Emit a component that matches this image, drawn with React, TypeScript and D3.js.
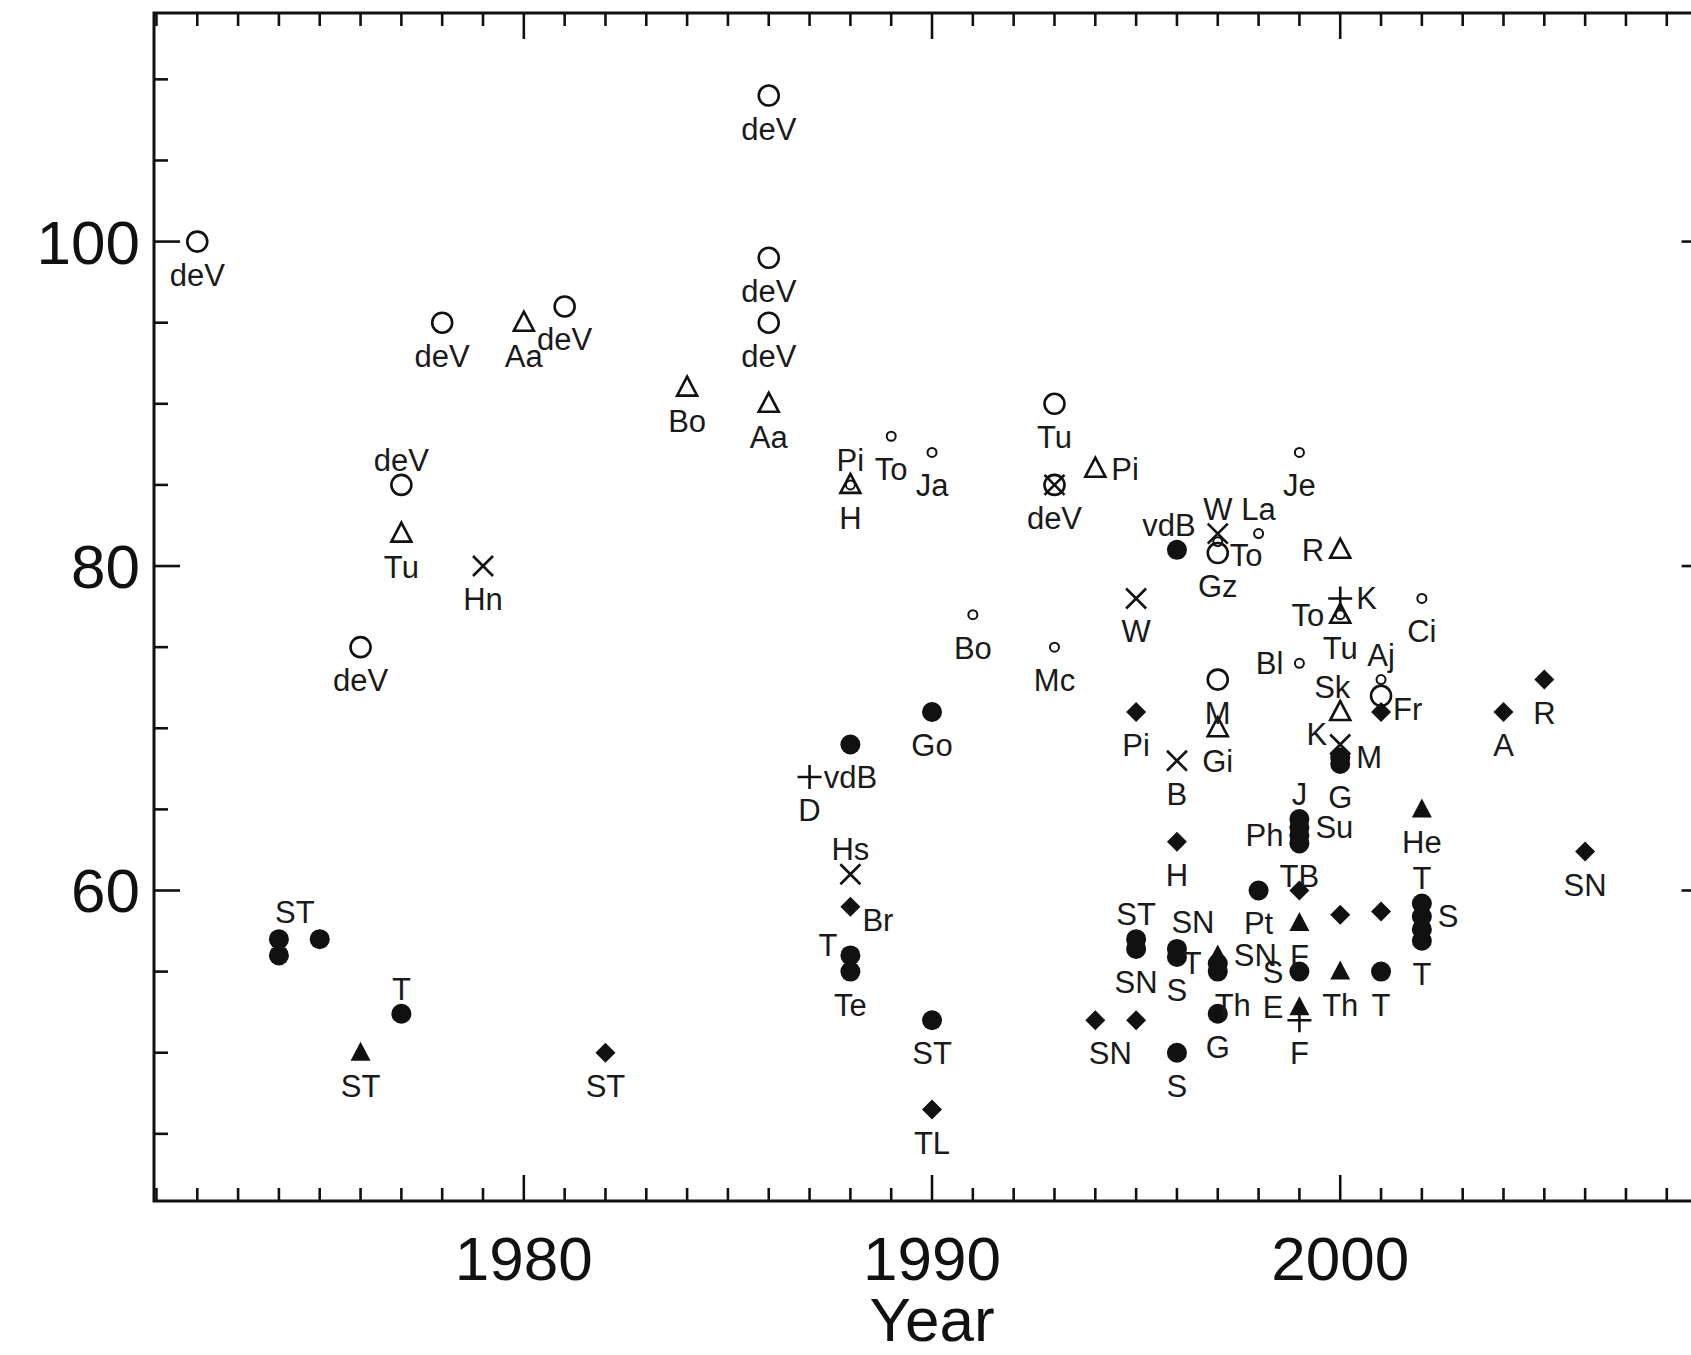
import * as d3 from "d3";

// [year, value, label, label placement]
type Pt = [number, number, string, string];

const openCircles: Pt[] = [
  [1972, 100, "deV", "b"],
  [1978, 95, "deV", "b"],
  [1981, 96, "deV", "b"],
  [1977, 85, "deV", "a"],
  [1976, 75, "deV", "b"],
  [1986, 109, "deV", "b"],
  [1986, 99, "deV", "b"],
  [1986, 95, "deV", "b"],
  [1993, 90, "Tu", "b"],
  [1993, 85, "deV", "b"],
  [1997, 80.8, "Gz", "b"],
  [1997, 73, "M", "b"],
  [2001, 72, "Fr", "lr"],
];

const smallCircles: Pt[] = [
  [1988, 85, "Pi", "a"],
  [1989, 88, "To", "b"],
  [1990, 87, "Ja", "b"],
  [1991, 77, "Bo", "b"],
  [1993, 75, "Mc", "b"],
  [1997, 81.5, "To", "lr"],
  [1998, 82, "La", "a"],
  [1999, 87, "Je", "b"],
  [2002, 78, "Ci", "b"],
  [1999, 74, "Bl", "l"],
  [2001, 73, "Aj", "a"],
  [2000, 77, "To", "l"],
];

const openTriangles: Pt[] = [
  [1980, 95, "Aa", "b"],
  [1977, 82, "Tu", "b"],
  [1986, 90, "Aa", "b"],
  [1984, 91, "Bo", "b"],
  [1988, 85, "H", "b"],
  [1994, 86, "Pi", "r"],
  [2000, 81, "R", "l"],
  [2000, 77, "Tu", "b"],
  [1997, 70, "Gi", "b"],
  [2000, 71, "Sk", "al"],
];

const crosses: Pt[] = [
  [1979, 80, "Hn", "b"],
  [1988, 61, "Hs", "a"],
  [1993, 85, "", ""],
  [1995, 78, "W", "b"],
  [1997, 82, "W", "a"],
  [1996, 68, "B", "b"],
  [2000, 69, "K", "ul"],
];

const filledCircles: Pt[] = [
  [1974, 57, "ST", "ar"],
  [1974, 56, "", ""],
  [1975, 57, "", ""],
  [1977, 52.4, "T", "a"],
  [1988, 69, "vdB", "b"],
  [1990, 71, "Go", "b"],
  [1988, 56, "T", "ul"],
  [1988, 55, "Te", "b"],
  [1990, 52, "ST", "b"],
  [1996, 81, "vdB", "al"],
  [2000, 68.2, "M", "r"],
  [2000, 67.8, "G", "b"],
  [1999, 64.4, "J", "a"],
  [1999, 63.9, "Su", "r"],
  [1999, 63.4, "Ph", "l"],
  [1999, 62.9, "TB", "b"],
  [1998, 60, "Pt", "b"],
  [2002, 59.2, "T", "a"],
  [2002, 58.4, "S", "r"],
  [2002, 57.6, "", ""],
  [2002, 56.9, "T", "b"],
  [1995, 57, "ST", "a"],
  [1995, 56.4, "SN", "b"],
  [1996, 56.4, "SN", "ar"],
  [1996, 55.9, "S", "b"],
  [1996, 50, "S", "b"],
  [1997, 55.5, "T", "l"],
  [1997, 55, "Th", "br"],
  [1997, 52.4, "G", "b"],
  [1999, 55, "S", "l"],
  [2001, 55, "T", "b"],
];

const filledDiamonds: Pt[] = [
  [1982, 50, "ST", "b"],
  [1990, 46.5, "TL", "b"],
  [1988, 59, "Br", "lr"],
  [1995, 71, "Pi", "b"],
  [1996, 63, "H", "b"],
  [1994, 52, "SN", "br"],
  [1995, 52, "", ""],
  [1999, 60, "", ""],
  [2000, 58.5, "", ""],
  [2001, 58.7, "", ""],
  [2001, 71, "", ""],
  [2004, 71, "A", "b"],
  [2005, 73, "R", "b"],
  [2006, 62.4, "SN", "b"],
];

const filledTriangles: Pt[] = [
  [1976, 50, "ST", "b"],
  [2002, 65, "He", "b"],
  [1999, 58, "F", "b"],
  [1997, 56, "SN", "r"],
  [1999, 52.8, "E", "l"],
  [2000, 55, "Th", "b"],
];

const pluses: Pt[] = [
  [1987, 67, "D", "b"],
  [2000, 78, "K", "r"],
  [1999, 52, "F", "b"],
];

const xMajor = [1980, 1990, 2000];
const yMajor = [60, 80, 100];
const xTitle = "Year";

const W = 1691;
const H = 1355;
const FONT = "'Liberation Sans', Arial, Helvetica, sans-serif";
const INK = "#111";

const x = d3.scaleLinear().domain([1970.94, 2009]).range([154, 1707.6]);
const y = d3.scaleLinear().domain([40.86, 114.09]).range([1201, 13]);

const xMinor = d3.range(1971, 2010).filter((d) => !xMajor.includes(d));
const yMinor = d3.range(45, 115, 5).filter((d) => !yMajor.includes(d));

const placement: Record<string, [number, number, string]> = {
  b: [0, 44, "middle"],
  a: [0, -14, "middle"],
  l: [-16, 11, "end"],
  r: [16, 11, "start"],
  al: [-8, -14, "middle"],
  ar: [16, -16, "middle"],
  br: [15, 44, "middle"],
  ul: [-13, 1, "end"],
  lr: [12, 24, "start"],
};

function Marker({ kind, cx, cy }: { kind: string; cx: number; cy: number }) {
  const t = `translate(${cx},${cy})`;
  switch (kind) {
    case "oc":
      return <circle cx={cx} cy={cy} r={10} fill="none" stroke={INK} strokeWidth={2.6} />;
    case "sc":
      return <circle cx={cx} cy={cy} r={4.5} fill="none" stroke={INK} strokeWidth={2} />;
    case "fc":
      return <circle cx={cx} cy={cy} r={10} fill={INK} />;
    case "ot":
      return <path transform={t} d="M0,-11L10,8L-10,8Z" fill="none" stroke={INK} strokeWidth={2.6} />;
    case "ft":
      return <path transform={t} d="M0,-11L10,8L-10,8Z" fill={INK} />;
    case "fd":
      return <path transform={t} d="M0,-10L10,0L0,10L-10,0Z" fill={INK} />;
    case "x":
      return <path transform={t} d="M-10,-10L10,10M10,-10L-10,10" stroke={INK} strokeWidth={2.6} />;
    case "p":
      return <path transform={t} d="M-12,0L12,0M0,-12L0,12" stroke={INK} strokeWidth={2.6} />;
    default:
      return null;
  }
}

const series: { kind: string; data: Pt[] }[] = [
  { kind: "oc", data: openCircles },
  { kind: "ot", data: openTriangles },
  { kind: "sc", data: smallCircles },
  { kind: "x", data: crosses },
  { kind: "p", data: pluses },
  { kind: "fc", data: filledCircles },
  { kind: "fd", data: filledDiamonds },
  { kind: "ft", data: filledTriangles },
];

export default function App() {
  const [x0, x1] = x.range();
  const [y1, y0] = y.range();
  return (
    <svg
      width={W}
      height={H}
      style={{ position: "absolute", left: 0, top: 0, background: "#fff" }}
      fontFamily={FONT}
    >
      <rect width={W} height={H} fill="#fff" />

      {/* frame */}
      <rect x={x0} y={y0} width={x1 - x0} height={y1 - y0} fill="none" stroke={INK} strokeWidth={3} />

      {/* ticks on all four sides, pointing inward */}
      <g stroke={INK} strokeWidth={2.6}>
        {xMinor.map((d) => (
          <g key={`xm${d}`}>
            <line x1={x(d)} x2={x(d)} y1={y0} y2={y0 + 13} />
            <line x1={x(d)} x2={x(d)} y1={y1} y2={y1 - 13} />
          </g>
        ))}
        {xMajor.map((d) => (
          <g key={`xM${d}`}>
            <line x1={x(d)} x2={x(d)} y1={y0} y2={y0 + 26} />
            <line x1={x(d)} x2={x(d)} y1={y1} y2={y1 - 26} />
          </g>
        ))}
        {yMinor.map((d) => (
          <g key={`ym${d}`}>
            <line x1={x0} x2={x0 + 14} y1={y(d)} y2={y(d)} />
            <line x1={x1} x2={x1 - 14} y1={y(d)} y2={y(d)} />
          </g>
        ))}
        {yMajor.map((d) => (
          <g key={`yM${d}`}>
            <line x1={x0} x2={x0 + 26} y1={y(d)} y2={y(d)} />
            <line x1={x1} x2={x1 - 26} y1={y(d)} y2={y(d)} />
          </g>
        ))}
      </g>

      {/* tick labels */}
      <g fontSize={62} fill={INK}>
        {xMajor.map((d) => (
          <text key={`xl${d}`} x={x(d)} y={1280} textAnchor="middle">
            {d}
          </text>
        ))}
        {yMajor.map((d) => (
          <text key={`yl${d}`} x={140} y={y(d) + 22} textAnchor="end">
            {d}
          </text>
        ))}
        <text x={x(1990)} y={1341} textAnchor="middle">
          {xTitle}
        </text>
      </g>

      {/* markers */}
      {series.map((s) =>
        s.data.map((p, i) => <Marker key={`${s.kind}${i}`} kind={s.kind} cx={x(p[0])} cy={y(p[1])} />)
      )}

      {/* point labels */}
      <g fontSize={31} fill="#1a1a1a">
        {series.map((s) =>
          s.data
            .filter((p) => p[2] && placement[p[3]])
            .map((p, i) => {
              const [dx, dy, anchor] = placement[p[3]];
              return (
                <text
                  key={`t${s.kind}${i}`}
                  x={x(p[0]) + dx}
                  y={y(p[1]) + dy}
                  textAnchor={anchor as any}
                >
                  {p[2]}
                </text>
              );
            })
        )}
      </g>
    </svg>
  );
}
